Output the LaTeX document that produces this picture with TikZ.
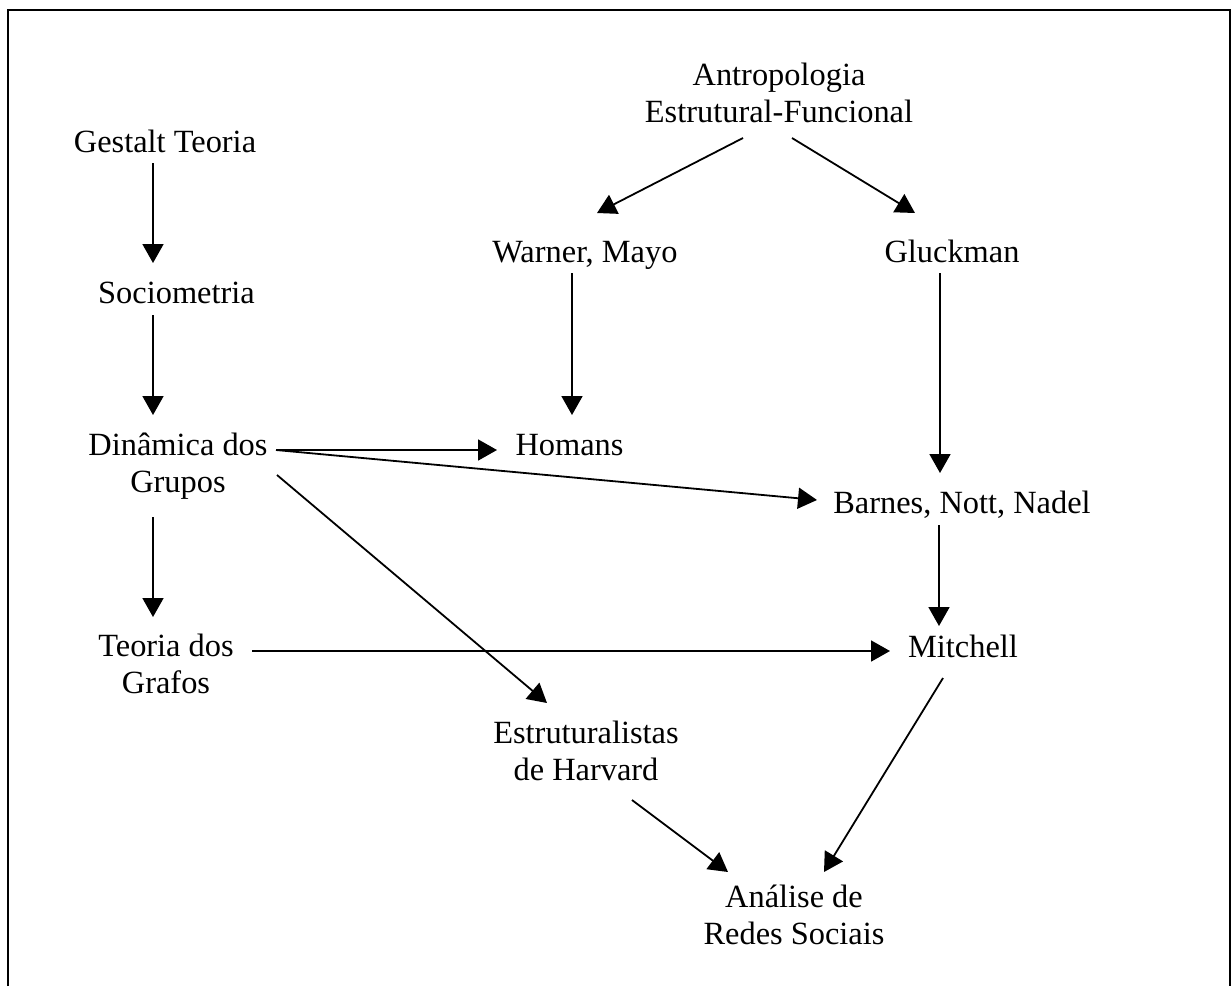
\documentclass[tikz,border=0pt]{standalone}
\usepackage{fontspec}
\setmainfont{Liberation Serif}
\usetikzlibrary{arrows.meta,calc}
\begin{document}
\begin{tikzpicture}[x=1pt,y=-1pt,
  txt/.style={anchor=base, inner sep=0pt, align=center,
              font=\fontsize{32.4}{37}\selectfont},
  arr/.style={line width=1.8pt, -{Triangle[length=19pt,width=21pt]}},
  frameline/.style={line width=2pt}]
\useasboundingbox (0,0) rectangle (1231,986);

% open frame (left, top and right sides)
\draw[frameline] (8,986) -- (8,10) -- (1229.5,10) -- (1229.5,986);

% concepts (base anchor = baseline of the last line)
\node[txt] (gestalt)  at (165,152)   {Gestalt Teoria};
\node[txt] (socio)    at (176.5,303) {Sociometria};
\node[txt] (dinamica) at (178,492)   {Dinâmica dos\\Grupos};
\node[txt] (grafos)   at (166,693)   {Teoria dos\\Grafos};
\node[txt] (antropo)  at (779,122)   {Antropologia\\Estrutural-Funcional};
\node[txt] (warner)   at (585,262)   {Warner, Mayo};
\node[txt] (gluck)    at (952,262)   {Gluckman};
\node[txt] (homans)   at (569.5,455) {Homans};
\node[txt] (barnes)   at (962,513)   {Barnes, Nott, Nadel};
\node[txt] (mitchell) at (963,657)   {Mitchell};
\node[txt] (harvard)  at (586,780)   {Estruturalistas\\de Harvard};
\node[txt] (analise)  at (794,944)   {Análise de\\Redes Sociais};

% influences
\draw[arr] ($(gestalt.base)+(-12,11)$)   -- ($(socio.base)+(-23.5,-40)$);
\draw[arr] ($(socio.base)+(-23.5,12)$)   -- ($(dinamica.base)+(-25,-77)$);
\draw[arr] ($(dinamica.base)+(-25,25)$)  -- ($(grafos.base)+(-13,-76)$);
\draw[arr] ($(dinamica.base)+(98,-42)$)  -- ($(homans.base)+(-72.5,-5)$);
\draw[arr] ($(dinamica.base)+(98,-42)$)  -- ($(barnes.base)+(-145,-13)$);
\draw[arr] ($(dinamica.base)+(99,-17)$)  -- ($(harvard.base)+(-39,-77)$);
\draw[arr] ($(grafos.base)+(86,-42)$)    -- ($(mitchell.base)+(-73,-6)$);
\draw[arr] ($(antropo.base)+(-36,16)$)   -- ($(warner.base)+(12,-49)$);
\draw[arr] ($(antropo.base)+(13,16)$)    -- ($(gluck.base)+(-37,-49)$);
\draw[arr] ($(warner.base)+(-13,11)$)    -- ($(homans.base)+(2.5,-40)$);
\draw[arr] ($(gluck.base)+(-12,11)$)     -- ($(barnes.base)+(-22,-40)$);
\draw[arr] ($(barnes.base)+(-23,12)$)    -- ($(mitchell.base)+(-24,-31)$);
\draw[arr] ($(mitchell.base)+(-20,21)$)  -- ($(analise.base)+(30,-72)$);
\draw[arr] ($(harvard.base)+(46,20)$)    -- ($(analise.base)+(-66,-72)$);
\end{tikzpicture}
\end{document}
